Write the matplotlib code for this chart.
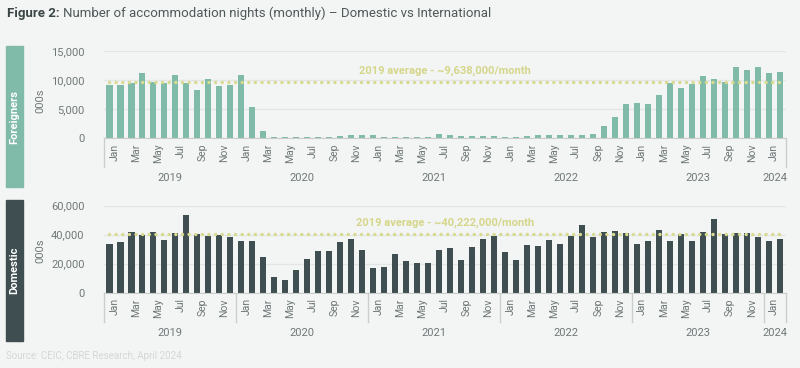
import matplotlib
matplotlib.use("Agg")
import matplotlib.pyplot as plt
import matplotlib.transforms as mtrans
from matplotlib.patches import Rectangle

# ---- data (thousands of nights), Jan 2019 .. Feb 2024
years = ["2019", "2020", "2021", "2022", "2023", "2024"]
months = ["Jan", "Feb", "Mar", "Apr", "May", "Jun",
          "Jul", "Aug", "Sep", "Oct", "Nov", "Dec"]

foreign = [9160, 9160, 9500, 11200, 9600, 9500, 10800, 9400, 8300, 10100, 9000, 9200,
           10900, 5400, 1180, 150, 120, 120, 130, 130, 150, 350, 450, 570,
           450, 150, 130, 130, 150, 150, 750, 520, 290, 290, 350, 350,
           150, 160, 300, 490, 600, 460, 570, 570, 690, 2000, 3700, 5800,
           6000, 5800, 7400, 9400, 8700, 9300, 10700, 10100, 9700, 12200, 11800, 12200,
           11200, 11300]

domestic = [33600, 34700, 41800, 39500, 41800, 36300, 40900, 53800, 40700, 39300, 39800, 38200,
            35900, 35400, 24400, 10600, 8700, 15600, 23000, 28500, 28500, 34700, 36800, 29400,
            17000, 17500, 26900, 22000, 20200, 20200, 29400, 30800, 22500, 31700, 36800, 39100,
            27800, 22500, 32600, 32200, 36300, 33300, 39100, 46700, 38600, 41800, 42500, 41400,
            33800, 35600, 43400, 35900, 40700, 35900, 41800, 51000, 40700, 41400, 40900, 38600,
            35900, 36800]

foreign_avg = 9638
domestic_avg = 40222

n = len(foreign)
x = list(range(n))
labels = [months[i % 12] for i in x]

bg = "#f3f5f4"
teal = "#80bba9"
dark = "#3f4e50"
dotc = "#d9da92"
txtc = "#d5d68a"
grey = "#6f7878"

plt.rcParams["font.family"] = ["Roboto", "DejaVu Sans"]

fig = plt.figure(figsize=(8, 3.68), dpi=100, facecolor=bg)

W, H = 800.0, 368.0
def ax_rect(top_px, bottom_px):
    return [104 / W, 1 - bottom_px / H, (785.5 - 104) / W, (bottom_px - top_px) / H]

ax1 = fig.add_axes(ax_rect(51, 138))
ax2 = fig.add_axes(ax_rect(205.7, 292.7))


def style_axis(ax, values, color, ymax, step, avg, avg_txt, seps):
    ax.set_facecolor(bg)
    ax.bar(x, values, width=0.55, color=color, zorder=2)
    ax.plot([x[0], x[-1]], [avg, avg], color=dotc, linewidth=2.5,
            linestyle=(0, (0.01, 1.9)), dash_capstyle="round", zorder=3)
    ax.set_xlim(-0.5, n - 0.5)
    ax.set_ylim(0, ymax)
    ticks = list(range(0, ymax + 1, step))
    ax.set_yticks(ticks, ["{:,}".format(t) for t in ticks])
    ax.grid(axis="y", color="#e3e6e5", linewidth=1, zorder=0)
    for s in ["top", "right", "left"]:
        ax.spines[s].set_visible(False)
    ax.spines["bottom"].set_color("#c9cdcc")
    ax.tick_params(axis="y", length=0, pad=14, labelsize=8, labelcolor=grey)
    ax.set_xticks(x[::2], labels[::2], rotation=90)
    ax.tick_params(axis="x", length=0, pad=4, labelsize=7.5, labelcolor=grey)
    off = mtrans.ScaledTranslation(5 / 100, 0, fig.dpi_scale_trans)
    for lbl in ax.get_xticklabels():
        lbl.set_transform(lbl.get_transform() + off)
    ax.text(30.5, avg, avg_txt, color=txtc, fontsize=8, fontweight="bold",
            ha="center", va="bottom",
            transform=ax.transData + mtrans.ScaledTranslation(0, 6 / 100, fig.dpi_scale_trans))
    bt = mtrans.blended_transform_factory(ax.transData, ax.transAxes)
    for sx in seps:
        ax.plot([sx, sx], [0, -29 / 87], color="#c9cdcc", linewidth=1,
                transform=bt, clip_on=False)
    for k, yr in enumerate(years):
        first = k * 12
        last = min(first + 11, n - 1)
        ax.annotate(yr, xy=((first + last) / 2, 0), xycoords=bt,
                    xytext=(0, -40), textcoords="offset pixels",
                    ha="center", va="center", fontsize=8, color=grey)


style_axis(ax1, foreign, teal, 15000, 5000, foreign_avg,
           "2019 average - ~9,638,000/month", [-0.5, n - 0.5])
style_axis(ax2, domestic, dark, 60000, 20000, domestic_avg,
           "2019 average - ~40,222,000/month",
           [-0.5, 11.5, 23.5, 35.5, 47.5, 59.5, n - 0.5])

# side labels
for (top, bot, col, name, unit_y) in [(46, 187, teal, "Foreigners", 101),
                                      (200, 341, dark, "Domestic", 251)]:
    fig.patches.append(Rectangle((6 / W, 1 - bot / H), 17 / W, (bot - top) / H,
                                 transform=fig.transFigure, color=col))
    fig.text(14.5 / W, 1 - (top + bot) / 2 / H, name, rotation=90, color="white",
             fontsize=8, fontweight="bold", ha="center", va="center")
    fig.text(40 / W, 1 - unit_y / H, "000s", rotation=90, color=grey,
             fontsize=8, ha="center", va="center")

# title
t1 = fig.text(7 / W, 1 - 13 / H, "Figure 2:", fontsize=9.5, fontweight="bold",
              color="#3a4545", ha="left", va="center")
fig.canvas.draw()
bb = t1.get_window_extent()
fig.text((bb.x1 + 3) / W, 1 - 13 / H,
         "Number of accommodation nights (monthly) \u2013 Domestic vs International",
         fontsize=9.5, color="#4f5959", ha="left", va="center")

fig.text(6 / W, 1 - 356 / H, "Source: CEIC, CBRE Research, April 2024",
         fontsize=7, color="#d3d7d6", ha="left", va="center")

fig.savefig("out.png", dpi=100, facecolor=bg)
